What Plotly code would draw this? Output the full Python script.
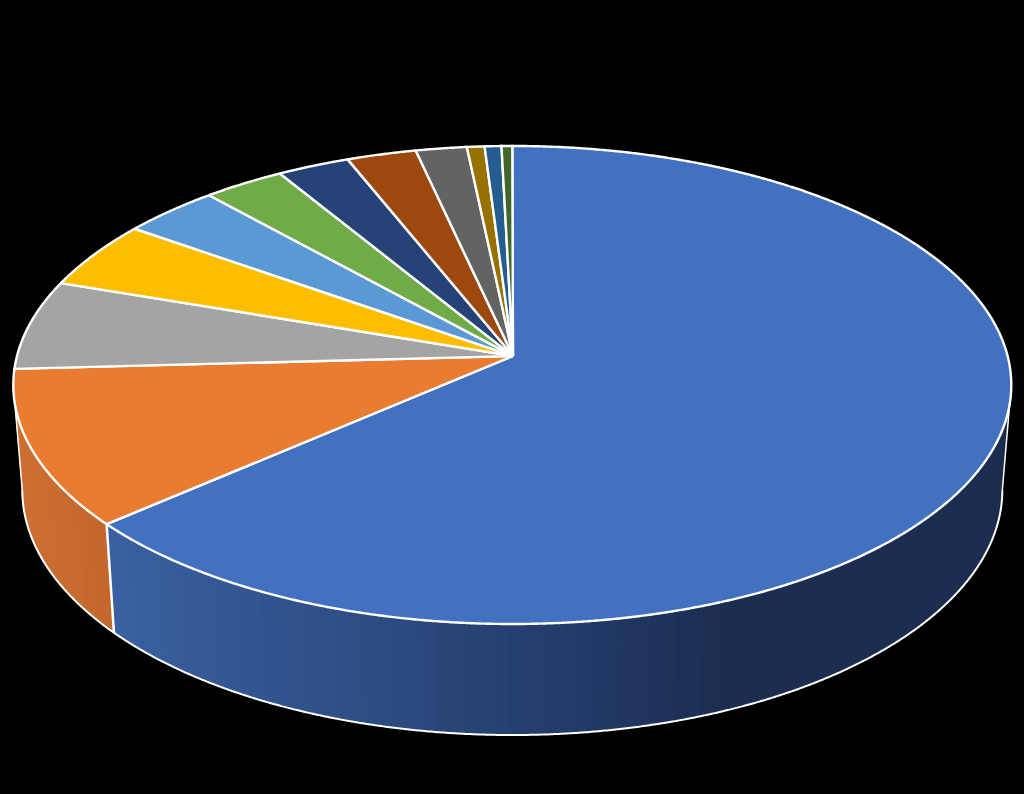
import math
import plotly.graph_objects as go

# Slice shares in percent, clockwise from the top
categories = ["A", "B", "C", "D", "E", "F", "G", "H", "I", "J", "K", "L"]
values = [63.6, 10.55, 6.08, 4.6, 3.55, 2.97, 2.64, 2.53, 1.86, 0.64, 0.61, 0.39]
colors = ["#4371C1", "#EA7C32", "#A4A4A4", "#FDBD00", "#5A99D3", "#6FAB46",
          "#264377", "#9C480E", "#636363", "#977200", "#255D90", "#43672B"]

# Wall shading stops (pixel x, rgb)
wall_blue = [(108, (58, 96, 161)), (400, (43, 74, 126)), (520, (37, 63, 111)),
             (640, (31, 53, 94)), (730, (27, 45, 80)), (1024, (27, 45, 80))]
wall_orange = [(15, (206, 111, 50)), (115, (193, 101, 43))]

K = 0.1213
CX = 512.3
APEX = (513.0, 356.0)
TOP = dict(a=495.3, b=235.5, y0=356.0)
BOT = dict(a=486.4, b=241.4, y0=460.3)
WHITE = "#FFFFFF"


def project(theta, face):
    u, v = math.sin(theta), math.cos(theta)
    w = 1 + K * v
    return CX + face["a"] * u / w, face["y0"] - face["b"] * v / w


def arc(t0, t1, face, step=0.004):
    n = max(2, int(abs(t1 - t0) / step))
    return [project(t0 + (t1 - t0) * i / n, face) for i in range(n + 1)]


def shade(stops, x):
    if x <= stops[0][0]:
        return stops[0][1]
    for (x0, c0), (x1, c1) in zip(stops, stops[1:]):
        if x <= x1:
            f = (x - x0) / (x1 - x0)
            return tuple(round(a + (b - a) * f) for a, b in zip(c0, c1))
    return stops[-1][1]


def poly(points, fill=None, line=None, width=0):
    xs = [p[0] for p in points]
    ys = [p[1] for p in points]
    return go.Scatter(
        x=xs, y=ys, mode="lines", hoverinfo="skip", showlegend=False,
        fill="toself" if fill else "none", fillcolor=fill,
        line=dict(color=line or "rgba(0,0,0,0)", width=width, simplify=False),
    )


total = sum(values)
angles = [0.0]
for val in values:
    angles.append(angles[-1] + 2 * math.pi * val / total)

# Silhouette angles: where each side of the ellipse reaches its extreme width
t_right = math.pi - math.acos(K)
t_left = math.pi + math.acos(K)
t_split = angles[1]

fig = go.Figure()


# Side wall, split in narrow strips
def wall(t0, t1, stops, count):
    for i in range(count):
        a = t0 + (t1 - t0) * i / count
        b = min(t0 + (t1 - t0) * (i + 1.3) / count, t1)
        pts = arc(a, b, TOP) + arc(b, a, BOT)
        xm = project((a + b) / 2, TOP)[0]
        c = shade(stops, xm)
        col = f"rgb({c[0]},{c[1]},{c[2]})"
        fig.add_trace(poly(pts + pts[:1], fill=col))


wall(t_right, t_split, wall_blue, 90)
wall(t_split, t_left, wall_orange, 12)

# Wall outlines
fig.add_trace(poly(arc(t_right, t_left, BOT), line=WHITE, width=2))
for t in (t_right, t_left):
    fig.add_trace(poly([project(t, TOP), project(t, BOT)], line=WHITE, width=1.5))
fig.add_trace(poly([project(t_split, TOP), project(t_split, BOT)], line=WHITE, width=2.5))

# Top face
for i, col in enumerate(colors):
    pts = [APEX] + arc(angles[i], angles[i + 1], TOP) + [APEX]
    fig.add_trace(poly(pts, fill=col, line=WHITE, width=2.4))

fig.update_layout(
    width=1024, height=794, margin=dict(l=0, r=0, t=0, b=0),
    paper_bgcolor="#000000", plot_bgcolor="#000000", showlegend=False,
    xaxis=dict(range=[0, 1024], visible=False, fixedrange=True),
    yaxis=dict(range=[794, 0], visible=False, fixedrange=True),
)
fig.write_html(
    "out.html",
    config={"displayModeBar": False},
    post_script="document.body.style.margin='0';document.body.style.background='#000';",
)
